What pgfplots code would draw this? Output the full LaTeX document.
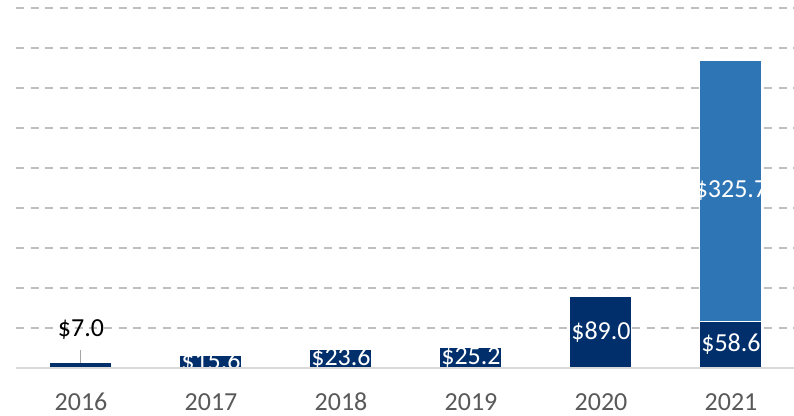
\documentclass[border=0pt]{standalone}
\usepackage{fontspec}
\setmainfont{Carlito}
\usepackage{pgfplots}
\pgfplotsset{compat=1.18}
\definecolor{navy}{RGB}{0,47,108}
\definecolor{lblue}{RGB}{46,117,182}
\definecolor{gridc}{RGB}{191,191,191}
\definecolor{basec}{RGB}{217,217,217}
\definecolor{tickc}{RGB}{89,89,89}
\begin{document}
\begin{tikzpicture}
\begin{axis}[
 at={(0,0)}, anchor=south west,
 scale only axis, width=585pt, height=270pt,
 xmin=-0.5, xmax=5.5, ymin=0, ymax=450,
 ybar stacked, bar width=46.5pt,
 xtick={0,1,2,3,4,5}, xticklabels={2016,2017,2018,2019,2020,2021},
 ytick={50,100,...,450}, yticklabels={},
 major tick length=0pt,
 ymajorgrids, grid style={gridc, line width=1.2pt, dash pattern=on 6pt off 5pt},
 axis line style={draw=none},
 xticklabel style={font=\fontsize{19.5}{23}\selectfont, text=tickc, anchor=base, yshift=-31.5pt},
 clip=false,
]
\addplot[fill=navy, draw=white, line width=0.75pt] coordinates {(0,7.0) (1,15.6) (2,23.6) (3,25.2) (4,89.0) (5,58.6)};
\addplot[fill=lblue, draw=white, line width=0.75pt] coordinates {(0,0) (1,0) (2,0) (3,0) (4,0) (5,325.7)};
\coordinate (l1) at (axis cs:1,7.8);
\coordinate (l2) at (axis cs:2,11.8);
\coordinate (l3) at (axis cs:3,12.6);
\coordinate (l4) at (axis cs:4,44.5);
\coordinate (l5) at (axis cs:5,29.3);
\coordinate (l6) at (axis cs:5,221.45);
\coordinate (l0) at (axis cs:0,47.5);
\coordinate (a0) at (axis cs:0,6.5);
\coordinate (a1) at (axis cs:0,23);
\coordinate (b0) at (axis cs:-0.5,0);
\coordinate (b1) at (axis cs:5.5,0);
\end{axis}
\begin{scope}[every node/.style={font=\fontsize{19.5}{23}\selectfont, text=white}]
\node at (l1) {\$15.6};
\node at (l2) {\$23.6};
\node at (l3) {\$25.2};
\node at (l4) {\$89.0};
\node at (l5) {\$58.6};
\node at (l6) {\$325.7};
\node[text=black] at (l0) {\$7.0};
\end{scope}
\draw[gray!70, line width=0.75pt] (a0) -- (a1);
\draw[basec, line width=1pt] (b0) -- (b1);
\pgfresetboundingbox
\path (-12pt,-35.25pt) rectangle (583.5pt,276pt);
\end{tikzpicture}
\end{document}
